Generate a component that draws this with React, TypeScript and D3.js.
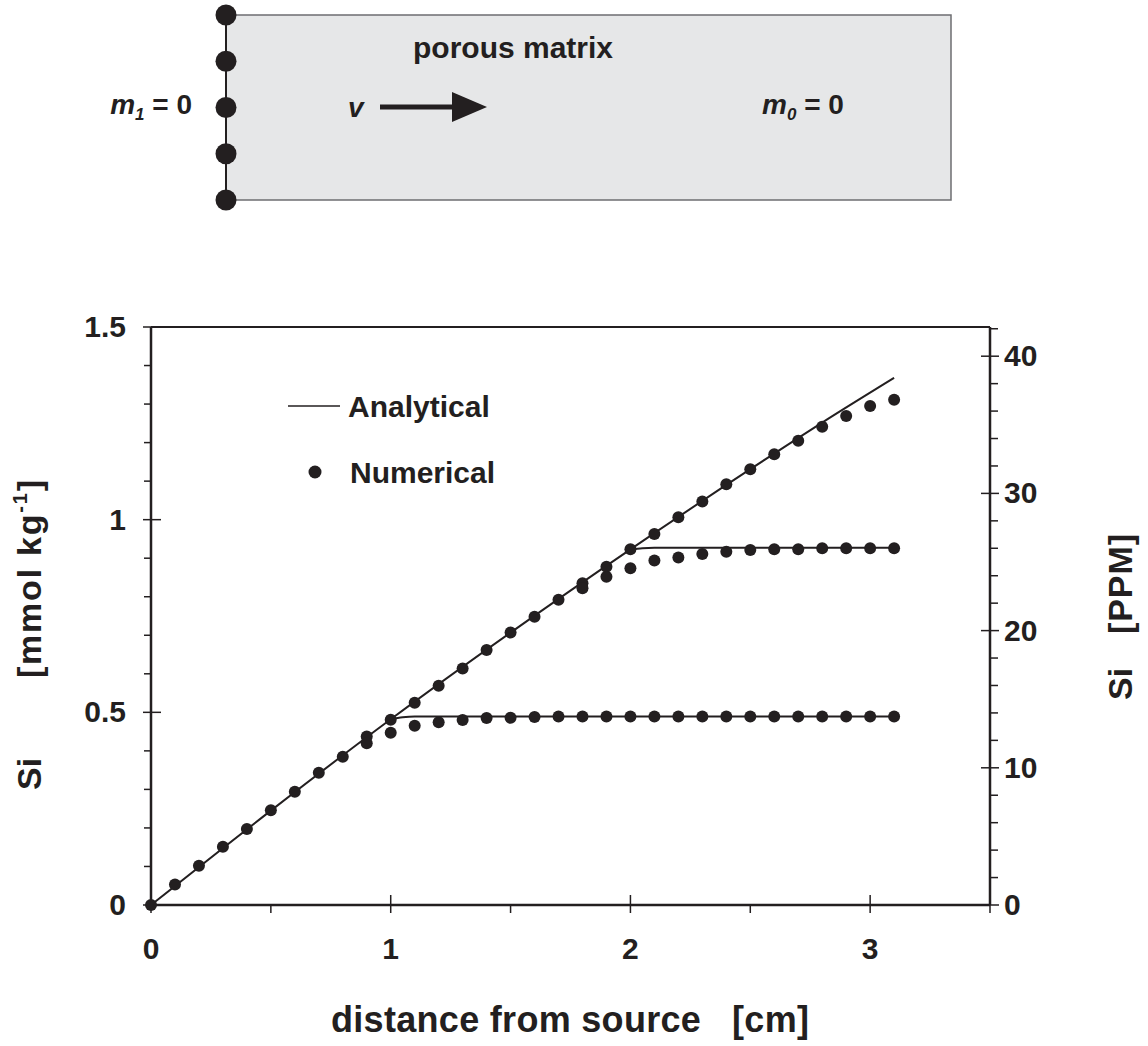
import React from "react";
import * as d3 from "d3";

// distance from source [cm]
const xNum = [0, 0.1, 0.2, 0.3, 0.4, 0.5, 0.6, 0.7, 0.8, 0.9, 1.0, 1.1, 1.2, 1.3, 1.4, 1.5, 1.6, 1.7, 1.8, 1.9, 2.0, 2.1, 2.2, 2.3, 2.4, 2.5, 2.6, 2.7, 2.8, 2.9, 3.0, 3.1];
// numerical Si [mmol/kg], continuous source
const numMain = [0, 0.053, 0.102, 0.151, 0.197, 0.246, 0.294, 0.343, 0.385, 0.437, 0.481, 0.525, 0.569, 0.614, 0.662, 0.707, 0.748, 0.792, 0.835, 0.878, 0.923, 0.963, 1.006, 1.047, 1.092, 1.131, 1.170, 1.205, 1.241, 1.269, 1.295, 1.311];
// source stopped after 1 cm
const xLow = [0.9, 1.0, 1.1, 1.2, 1.3, 1.4, 1.5, 1.6, 1.7, 1.8, 1.9, 2.0, 2.1, 2.2, 2.3, 2.4, 2.5, 2.6, 2.7, 2.8, 2.9, 3.0, 3.1];
const numLow = [0.420, 0.447, 0.465, 0.474, 0.480, 0.485, 0.486, 0.488, 0.489, 0.489, 0.489, 0.489, 0.489, 0.489, 0.489, 0.489, 0.489, 0.489, 0.489, 0.489, 0.489, 0.489, 0.489];
// source stopped after 2 cm
const xMid = [1.8, 1.9, 2.0, 2.1, 2.2, 2.3, 2.4, 2.5, 2.6, 2.7, 2.8, 2.9, 3.0, 3.1];
const numMid = [0.822, 0.852, 0.874, 0.894, 0.902, 0.911, 0.917, 0.921, 0.923, 0.923, 0.926, 0.926, 0.926, 0.926];

// analytical solution
const xAnaMain = [0, 0.5, 1.0, 1.5, 2.0, 2.5, 2.8, 3.1];
const anaMain = [0, 0.245, 0.482, 0.707, 0.923, 1.131, 1.252, 1.368];
const xAnaLow = [1.0, 1.05, 1.1, 1.2, 3.1];
const anaLow = [0.482, 0.487, 0.489, 0.489, 0.489];
const xAnaMid = [2.0, 2.05, 2.1, 2.2, 3.1];
const anaMid = [0.923, 0.926, 0.927, 0.927, 0.927];

const xMajor = [0, 1, 2, 3];
const xMinor = [0.5, 1.5, 2.5, 3.5];
const yMajor = [0, 0.5, 1, 1.5];
const yLabels = ["0", "0.5", "1", "1.5"];
const ppmMajor = [0, 10, 20, 30, 40];
const SI_MOLAR_MASS = 28.0855;

const FONT = "'Liberation Sans', Arial, Helvetica, sans-serif";
const INK = "#231f20";

const zip = (xs: number[], ys: number[]) => xs.map((x, i) => [x, ys[i]] as [number, number]);

export default function App() {
  const width = 1148;
  const height = 1046;
  const m = { left: 151, right: 990, top: 327, bottom: 905 };

  const x = d3.scaleLinear().domain([0, 3.5]).range([m.left, m.right]);
  const y = d3.scaleLinear().domain([0, 1.5]).range([m.bottom, m.top]);
  const yR = d3.scaleLinear().domain([0, 1.5 * SI_MOLAR_MASS]).range([m.bottom, m.top]);

  const line = d3
    .line<[number, number]>()
    .x((d) => x(d[0]))
    .y((d) => y(d[1]))
    .curve(d3.curveMonotoneX);

  const yMinor = d3.range(1, 15).map((i) => i / 10).filter((v) => Math.abs(v * 2 - Math.round(v * 2)) > 1e-6);
  const ppmMinor = d3.range(2, 43, 2).filter((v) => v % 10 !== 0);

  const points = [...zip(xNum, numMain), ...zip(xLow, numLow), ...zip(xMid, numMid)];

  // boundary nodes of the sketch
  const nodes = [0, 1, 2, 3, 4];
  const box = { x: 226, y: 15, w: 725, h: 185 };

  return (
    <svg
      width={width}
      height={height}
      style={{ position: "absolute", left: 0, top: 0, background: "#fff" }}
      fontFamily={FONT}
      fontWeight="bold"
      fill={INK}
    >
      {/* sketch of the porous column */}
      <rect x={box.x} y={box.y} width={box.w} height={box.h} fill="#e6e7e8" stroke="#6d6e71" strokeWidth={1.5} />
      <line x1={box.x} x2={box.x} y1={box.y} y2={box.y + box.h} stroke={INK} strokeWidth={2} />
      {nodes.map((i) => (
        <circle key={i} cx={box.x} cy={box.y + (i * box.h) / 4} r={10.5} fill={INK} />
      ))}
      <text x={413} y={58} fontSize={30}>porous matrix</text>
      <text x={348} y={117} fontSize={28} fontStyle="italic">v</text>
      <line x1={380} x2={455} y1={107} y2={107} stroke={INK} strokeWidth={5} />
      <path d="M452,92 L487,107 L452,122 Z" fill={INK} />
      <text x={192} y={114} fontSize={28} textAnchor="end">
        <tspan fontStyle="italic">m</tspan>
        <tspan fontStyle="italic" fontSize={17} dy={6}>1</tspan>
        <tspan dy={-6}> = 0</tspan>
      </text>
      <text x={762} y={114} fontSize={28}>
        <tspan fontStyle="italic">m</tspan>
        <tspan fontStyle="italic" fontSize={17} dy={6}>0</tspan>
        <tspan dy={-6}> = 0</tspan>
      </text>

      {/* frame */}
      <line x1={m.left} x2={m.right} y1={m.top} y2={m.top} stroke={INK} strokeWidth={2} />
      <line x1={m.left} x2={m.right} y1={m.bottom} y2={m.bottom} stroke={INK} strokeWidth={2.5} />
      <line x1={m.left} x2={m.left} y1={m.top} y2={m.bottom} stroke={INK} strokeWidth={2.5} />
      <line x1={m.right} x2={m.right} y1={m.top} y2={m.bottom} stroke={INK} strokeWidth={2.5} />

      {/* x ticks */}
      {xMajor.map((v) => (
        <g key={"xM" + v}>
          <line x1={x(v)} x2={x(v)} y1={m.bottom - 10} y2={m.bottom + 8} stroke={INK} strokeWidth={1.5} />
          <text x={x(v)} y={959} fontSize={30} textAnchor="middle">{v}</text>
        </g>
      ))}
      {xMinor.map((v) => (
        <line key={"xm" + v} x1={x(v)} x2={x(v)} y1={m.bottom} y2={m.bottom + 8} stroke={INK} strokeWidth={1.5} />
      ))}

      {/* left ticks */}
      {yMajor.map((v, i) => (
        <g key={"yM" + v}>
          <line x1={m.left - 8} x2={m.left + 10} y1={y(v)} y2={y(v)} stroke={INK} strokeWidth={1.5} />
          <text x={126} y={y(v) + 10} fontSize={30} textAnchor="end">{yLabels[i]}</text>
        </g>
      ))}
      {yMinor.map((v) => (
        <line key={"ym" + v} x1={m.left - 7} x2={m.left} y1={y(v)} y2={y(v)} stroke={INK} strokeWidth={1.5} />
      ))}

      {/* right ticks (PPM) */}
      {ppmMajor.map((v) => (
        <g key={"rM" + v}>
          <line x1={m.right - 9} x2={m.right + 9} y1={yR(v)} y2={yR(v)} stroke={INK} strokeWidth={1.5} />
          <text x={1004} y={yR(v) + 10} fontSize={30}>{v}</text>
        </g>
      ))}
      {ppmMinor.map((v) => (
        <line key={"rm" + v} x1={m.right} x2={m.right + 8} y1={yR(v)} y2={yR(v)} stroke={INK} strokeWidth={1.5} />
      ))}

      {/* analytical curves */}
      {[zip(xAnaMain, anaMain), zip(xAnaLow, anaLow), zip(xAnaMid, anaMid)].map((d, i) => (
        <path key={"a" + i} d={line(d) ?? ""} fill="none" stroke={INK} strokeWidth={2} />
      ))}

      {/* numerical points */}
      {points.map((d, i) => (
        <circle key={"p" + i} cx={x(d[0])} cy={y(d[1])} r={6} fill={INK} />
      ))}

      {/* legend */}
      <line x1={288} x2={340} y1={406} y2={406} stroke={INK} strokeWidth={1.5} />
      <text x={348} y={417} fontSize={30}>Analytical</text>
      <circle cx={315} cy={472} r={6.5} fill={INK} />
      <text x={350} y={483} fontSize={30}>Numerical</text>

      {/* axis titles */}
      <text x={570} y={1032} fontSize={36} textAnchor="middle" textLength={478}>
        distance from source{"\u00a0\u00a0\u00a0"}[cm]
      </text>
      <g transform="translate(41,790) rotate(-90)">
        <text x={0} y={0} fontSize={34}>Si</text>
        <text x={112} y={0} fontSize={34} textLength={198}>
          [mmol kg<tspan fontSize={20} dy={-14}>-1</tspan><tspan dy={14}>]</tspan>
        </text>
      </g>
      <g transform="translate(1132,700) rotate(-90)">
        <text x={0} y={0} fontSize={34}>Si</text>
        <text x={66} y={0} fontSize={34} textLength={100}>[PPM]</text>
      </g>
    </svg>
  );
}
